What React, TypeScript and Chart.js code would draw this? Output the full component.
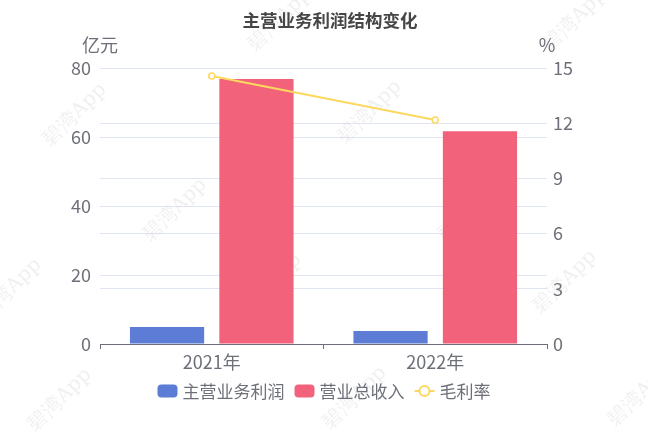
import { useEffect, useRef } from "react";
import { Chart, registerables } from "chart.js";

Chart.register(...registerables);

const title = "主营业务利润结构变化";
const categories = ["2021年", "2022年"];
const seriesNames = ["主营业务利润", "营业总收入", "毛利率"];
const profit = [4.9, 3.8];
const revenue = [76.8, 61.7];
const margin = [14.57, 12.17];
const leftUnit = "亿元";
const rightUnit = "%";
const leftMax = 80;
const leftStep = 20;
const rightMax = 15;
const rightStep = 3;

const BLUE = "#5d7cd6";
const RED = "#f2627b";
const YELLOW = "#fdd85e";
const TEXT = "#6e7079";
const GRID = "#e0e6f1";
const FONT = '"Noto Sans CJK SC", "Noto Sans", sans-serif';

const watermarks: [number, number][] = [
  [280, 20], [575, 20], [75, 115], [370, 112], [175, 210], [470, 210],
  [10, 290], [270, 285], [565, 282], [60, 400], [355, 398], [640, 395],
];

const overlay = {
  id: "overlay",
  beforeDatasetsDraw(chart: any) {
    const ctx = chart.ctx;
    ctx.save();
    ctx.fillStyle = "rgba(170,170,170,0.18)";
    ctx.font = '20px "DejaVu Serif", "Liberation Serif", serif';
    ctx.textAlign = "center";
    ctx.textBaseline = "middle";
    for (const [x, y] of watermarks) {
      ctx.save();
      ctx.translate(x, y);
      ctx.rotate(-Math.PI / 4);
      ctx.fillText("碧湾App", 0, 0);
      ctx.restore();
    }
    ctx.restore();
  },
  afterDraw(chart: any) {
    const ctx = chart.ctx;
    const area = chart.chartArea;
    ctx.save();
    // title
    ctx.fillStyle = "#464646";
    ctx.font = `bold 17.5px ${FONT}`;
    ctx.textAlign = "center";
    ctx.textBaseline = "middle";
    ctx.fillText(title, 330, 20);
    // units
    ctx.fillStyle = TEXT;
    ctx.font = `18px ${FONT}`;
    ctx.fillText(leftUnit, area.left, 45);
    ctx.fillText(rightUnit, area.right, 45);
    // legend
    ctx.font = `17px ${FONT}`;
    const colors = [BLUE, RED, YELLOW];
    const iconW = 20;
    const iconGap = 5;
    const itemGap = 10;
    const widths = seriesNames.map((n) => iconW + iconGap + ctx.measureText(n).width);
    const total = widths.reduce((a, b) => a + b, 0) + itemGap * (seriesNames.length - 1);
    let x = 324 - total / 2;
    const cy = 391;
    ctx.textAlign = "left";
    seriesNames.forEach((name, i) => {
      if (i < 2) {
        ctx.fillStyle = colors[i];
        ctx.beginPath();
        (ctx as any).roundRect(x, cy - 6.5, iconW, 13, 4);
        ctx.fill();
      } else {
        ctx.strokeStyle = colors[i];
        ctx.lineWidth = 2;
        ctx.beginPath();
        ctx.moveTo(x, cy);
        ctx.lineTo(x + iconW, cy);
        ctx.stroke();
        ctx.beginPath();
        ctx.arc(x + iconW / 2, cy, 5, 0, Math.PI * 2);
        ctx.fillStyle = "#fff";
        ctx.fill();
        ctx.stroke();
      }
      ctx.fillStyle = TEXT;
      ctx.fillText(name, x + iconW + iconGap, cy + 1);
      x += widths[i] + itemGap;
    });
    ctx.restore();
  },
};

export default function App() {
  const ref = useRef<HTMLCanvasElement>(null);
  useEffect(() => {
    if (!ref.current) return;
    const chart = new Chart(ref.current, {
      type: "bar",
      data: {
        labels: categories,
        datasets: [
          {
            type: "line",
            label: seriesNames[2],
            data: margin,
            yAxisID: "y1",
            borderColor: YELLOW,
            borderWidth: 2,
            pointRadius: 3,
            pointBorderWidth: 1.5,
            pointBackgroundColor: "#fff",
            pointBorderColor: YELLOW,
            order: 0,
          } as any,
          {
            label: seriesNames[0],
            data: profit,
            backgroundColor: BLUE,
            yAxisID: "y",
            order: 1,
            categoryPercentage: 0.8,
            barPercentage: 0.83,
          },
          {
            label: seriesNames[1],
            data: revenue,
            backgroundColor: RED,
            yAxisID: "y",
            order: 2,
            categoryPercentage: 0.8,
            barPercentage: 0.83,
          },
        ],
      },
      options: {
        responsive: false,
        animation: false,
        devicePixelRatio: 1,
        layout: { padding: { top: 68, bottom: 58, left: 0, right: 0 } },
        plugins: {
          legend: { display: false },
          title: { display: false },
          tooltip: { enabled: false },
        },
        scales: {
          x: {
            type: "category",
            offset: true,
            grid: {
              offset: true,
              drawOnChartArea: false,
              drawTicks: true,
              tickLength: 5,
              color: TEXT,
            },
            border: { color: TEXT, width: 1 },
            ticks: { color: TEXT, font: { family: FONT, size: 18 }, padding: 2 },
            afterFit: (s: any) => {
              s.height = 30;
            },
          },
          y: {
            position: "left",
            min: 0,
            max: leftMax,
            ticks: { stepSize: leftStep, color: TEXT, font: { family: FONT, size: 18 }, padding: 9 },
            grid: { color: GRID, drawTicks: false },
            border: { display: false },
            afterFit: (s: any) => {
              s.width = 100;
            },
          },
          y1: {
            position: "right",
            min: 0,
            max: rightMax,
            ticks: { stepSize: rightStep, color: TEXT, font: { family: FONT, size: 18 }, padding: 6 },
            grid: { color: GRID, drawTicks: false },
            border: { display: false },
            afterFit: (s: any) => {
              s.width = 101;
            },
          },
        },
      },
      plugins: [overlay],
    });
    return () => chart.destroy();
  }, []);
  return (
    <div style={{ position: "fixed", left: 0, top: 0, width: 648, height: 432, background: "#fff" }}>
      <canvas ref={ref} width={648} height={432} />
    </div>
  );
}
